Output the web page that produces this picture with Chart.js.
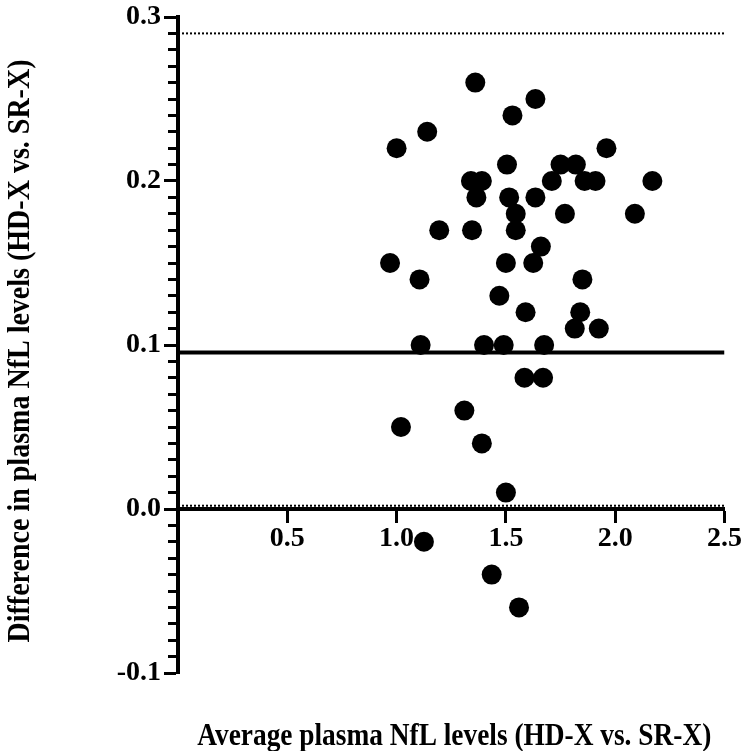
<!DOCTYPE html>
<html>
<head>
<meta charset="utf-8">
<script src="https://cdn.jsdelivr.net/npm/chart.js@4/dist/chart.umd.min.js"></script>
<style>
  html, body { margin: 0; padding: 0; background: #fff; }
  #wrap { width: 746px; height: 751px; position: relative; }
</style>
</head>
<body>
<div id="wrap"><canvas id="c"></canvas></div>
<script>
// Average of the two methods (x) and their difference (y)
const averageNfL = [1.36, 1.635, 1.53, 1.14, 1.00, 1.96, 1.505, 1.75, 1.82, 1.34, 1.39, 1.71, 1.86, 1.91, 2.17,
  1.365, 1.515, 1.635, 1.545, 1.77, 2.09, 1.195, 1.345, 1.545, 1.66, 0.97, 1.50, 1.625, 1.105, 1.85,
  1.47, 1.59, 1.84, 1.815, 1.925, 1.11, 1.40, 1.49, 1.675, 1.585, 1.67, 1.31, 1.02, 1.39, 1.50,
  1.125, 1.435, 1.56];
const differenceNfL = [0.26, 0.25, 0.24, 0.23, 0.22, 0.22, 0.21, 0.21, 0.21, 0.20, 0.20, 0.20, 0.20, 0.20, 0.20,
  0.19, 0.19, 0.19, 0.18, 0.18, 0.18, 0.17, 0.17, 0.17, 0.16, 0.15, 0.15, 0.15, 0.14, 0.14,
  0.13, 0.12, 0.12, 0.11, 0.11, 0.10, 0.10, 0.10, 0.10, 0.08, 0.08, 0.06, 0.05, 0.04, 0.01,
  -0.02, -0.04, -0.06];
const meanBias = 0.0955;
const upperLoA = 0.29;
const lowerLoA = 0.002;
const xRange = [0, 2.5];
const yRange = [-0.1, 0.3];
const xTickStep = 0.5;
const yMajorStep = 0.1;
const yMinorStep = 0.01;
const xTitle = 'Average plasma NfL levels (HD-X vs. SR-X)';
const yTitle = 'Difference in plasma NfL levels (HD-X vs. SR-X)';

const FONT = "'Liberation Serif', 'Times New Roman', Times, serif";
Chart.defaults.color = '#000';

const points = averageNfL.map((x, i) => ({ x: x, y: differenceNfL[i] }));
const hline = (v) => xRange.map(x => ({ x: x, y: v }));
const isMajorY = (v) => Math.abs(Math.round(v / yMinorStep)) % 10 === 0;

// Axis titles drawn as condensed bold serif text (the reference uses a narrow face)
const condensedTitles = {
  id: 'condensedTitles',
  afterDraw(chart) {
    const { ctx, chartArea: a } = chart;
    ctx.save();
    ctx.fillStyle = '#000';
    ctx.font = "bold 32px " + FONT;
    ctx.textAlign = 'center';
    ctx.textBaseline = 'alphabetic';
    ctx.fillText(xTitle, (a.left + a.right) / 2 + 3, chart.height - 6, 514);
    ctx.translate(29, (a.top + a.bottom) / 2 + 6);
    ctx.rotate(-Math.PI / 2);
    ctx.fillText(yTitle, 0, 0, 583);
    ctx.restore();
  }
};

new Chart(document.getElementById('c'), {
  type: 'scatter',
  data: {
    datasets: [
      {
        type: 'line', data: hline(upperLoA), borderColor: '#000', borderWidth: 2,
        borderDash: [2, 2], pointRadius: 0, fill: false, tension: 0, order: 3
      },
      {
        type: 'line', data: hline(lowerLoA), borderColor: '#000', borderWidth: 2,
        borderDash: [2, 2], pointRadius: 0, fill: false, tension: 0, order: 3
      },
      {
        type: 'line', data: hline(meanBias), borderColor: '#000', borderWidth: 4,
        pointRadius: 0, fill: false, tension: 0, order: 2
      },
      {
        type: 'scatter', data: points, backgroundColor: '#000', borderWidth: 0,
        pointRadius: 10, pointHoverRadius: 10, order: 1
      }
    ]
  },
  plugins: [condensedTitles],
  options: {
    responsive: true,
    maintainAspectRatio: false,
    animation: false,
    events: [],
    layout: { padding: { top: 14, right: 19, bottom: 78, left: 0 } },
    plugins: { legend: { display: false }, tooltip: { enabled: false } },
    scales: {
      x: {
        type: 'linear',
        position: { y: 0 },
        min: xRange[0], max: xRange[1],
        grid: { drawOnChartArea: false, drawTicks: true, tickLength: 12, tickWidth: 3, tickColor: '#000' },
        border: { display: true, color: '#000', width: 4 },
        ticks: {
          stepSize: xTickStep,
          padding: 4,
          autoSkip: false,
          maxRotation: 0,
          font: { family: FONT, size: 28, weight: 'bold', lineHeight: 1 },
          callback: (v) => (Math.abs(v) < 1e-9 ? '' : Number(v).toFixed(1))
        }
      },
      y: {
        type: 'linear',
        position: 'left',
        min: yRange[0], max: yRange[1],
        grid: {
          drawOnChartArea: false, drawTicks: true, tickLength: 14, tickWidth: 3, tickColor: '#000',
          tickBorderDash: (ctx) => (ctx.tick && !isMajorY(ctx.tick.value) ? [0, 4, 40] : [])
        },
        border: { display: true, color: '#000', width: 4 },
        ticks: {
          stepSize: yMinorStep,
          autoSkip: false,
          padding: 3,
          font: { family: FONT, size: 28, weight: 'bold', lineHeight: 1 },
          callback: (v) => (isMajorY(v) ? (Math.round(v / yMajorStep) * yMajorStep).toFixed(1) : '')
        },
        title: { display: false },
        afterFit: (s) => { s.width = 178; }
      }
    }
  }
});
</script>
</body>
</html>
